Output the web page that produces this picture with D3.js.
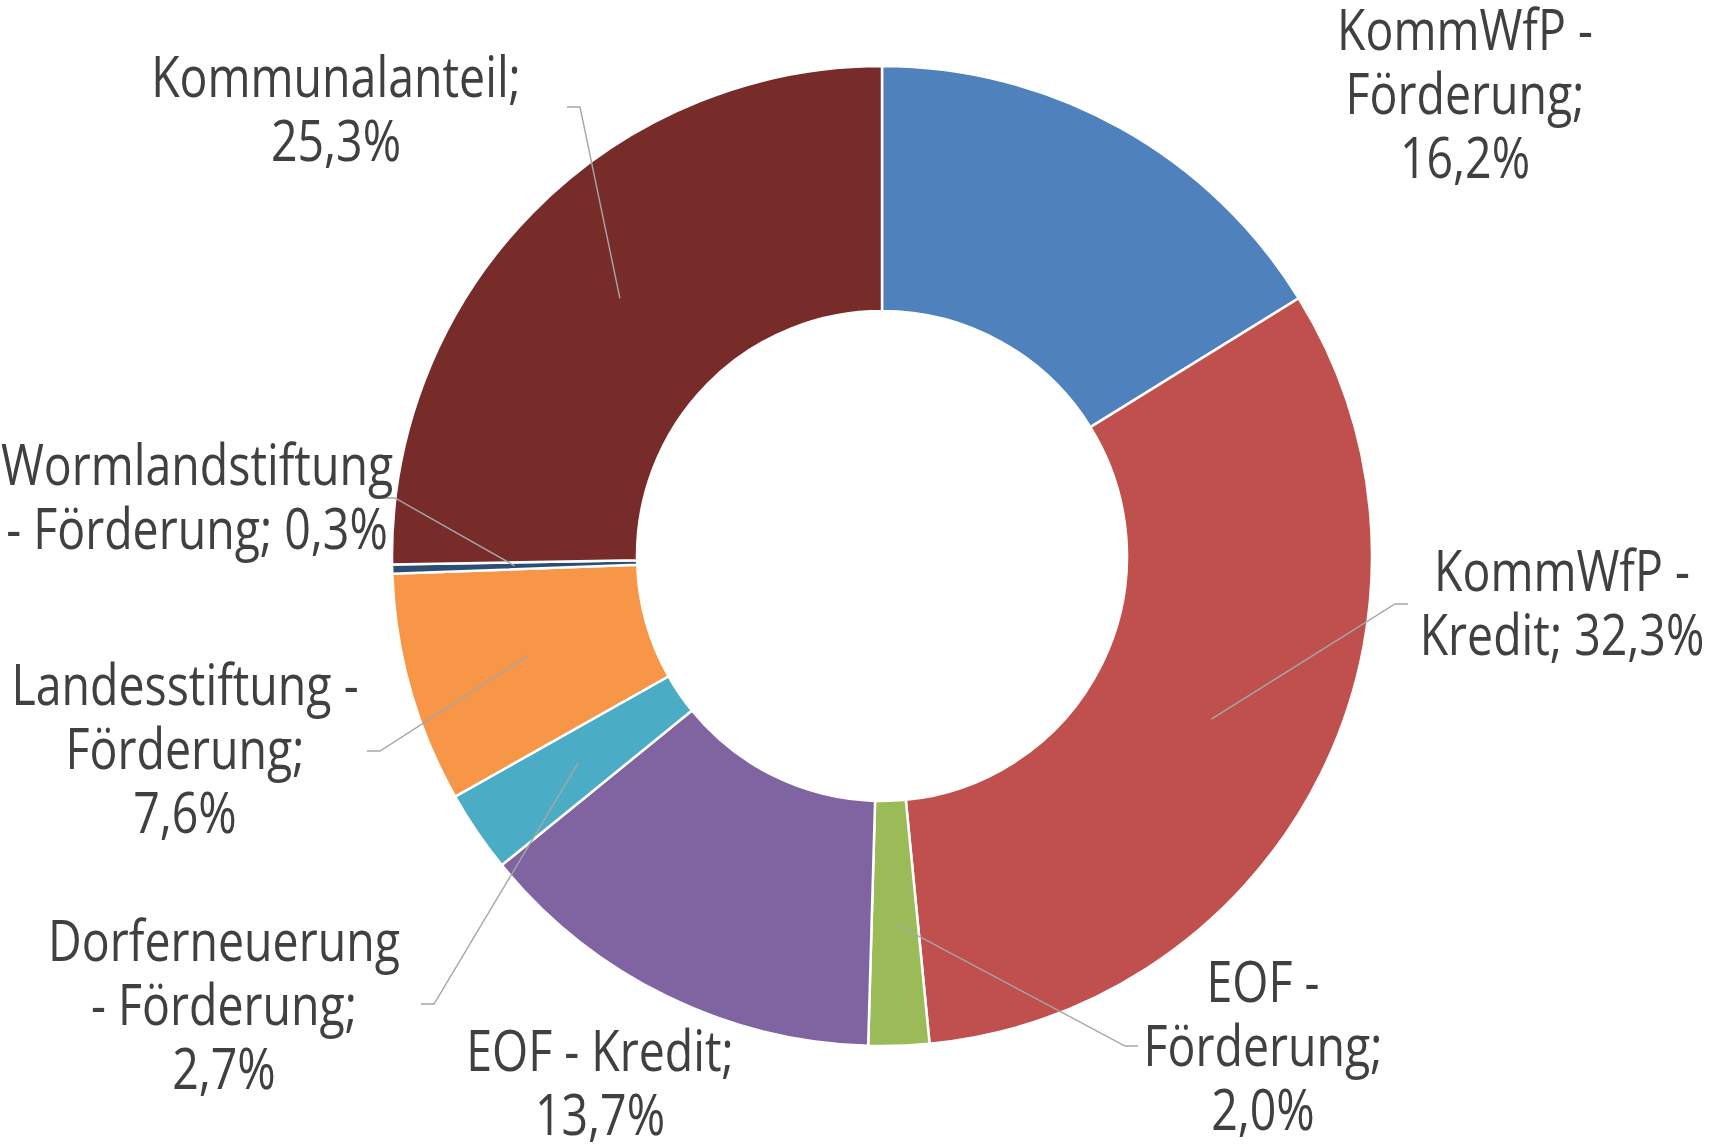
<!DOCTYPE html>
<html>
<head>
<meta charset="utf-8">
<script src="https://cdn.jsdelivr.net/npm/d3@7"></script>
<style>
  body { margin: 0; background: #fff; }
  svg { display: block; }
</style>
</head>
<body>
<div id="chart"></div>
<script>
// data, clockwise from 12 o'clock
const categories = ["KommWfP - Förderung", "KommWfP - Kredit", "EOF - Förderung", "EOF - Kredit",
  "Dorferneuerung - Förderung", "Landesstiftung - Förderung", "Wormlandstiftung - Förderung", "Kommunalanteil"]
const shares = [16.2, 32.3, 2.0, 13.7, 2.7, 7.6, 0.3, 25.3]
const colors = ["#4F81BD", "#C0504D", "#9BBB59", "#8064A2", "#4BACC6", "#F79646", "#2C4D75", "#772C2A"]

// how the labels wrap, {p} is replaced by the share
const labelWrap = [
  ["KommWfP -", "Förderung;", "{p}"],
  ["KommWfP -", "Kredit; {p}"],
  ["EOF -", "Förderung;", "{p}"],
  ["EOF - Kredit;", "{p}"],
  ["Dorferneuerung", "- Förderung;", "{p}"],
  ["Landesstiftung -", "Förderung;", "{p}"],
  ["Wormlandstiftung", "- Förderung; {p}"],
  ["Kommunalanteil;", "{p}"]
]
// label anchor (center x, first baseline) and leader attach point
const labelPos = [[1465, 50], [1562, 591], [1263, 1002], [600, 1071], [224, 961], [185, 705], [197, 485], [336, 97]]
const leaderAt = [null, [1408, 604], [1138, 1046], null, [421, 1004], [367, 751], [382, 498], [567, 107]]

var width = 1727, height = 1146
var cx = 882, cy = 556, outerR = 490, innerR = 245
var lineH = 64
var squeeze = 0.83   // Open Sans is wider than the Calibri of the original

var svg = d3.select("#chart").append("svg")
  .attr("width", width)
  .attr("height", height)

var pie = d3.pie().sort(null).value(function (d) { return d })
var arc = d3.arc().innerRadius(innerR).outerRadius(outerR)
var arcs = pie(shares)

var g = svg.append("g").attr("transform", "translate(" + cx + "," + cy + ")")

g.selectAll("path")
  .data(arcs)
  .join("path")
  .attr("d", arc)
  .attr("fill", function (d, i) { return colors[i] })
  .attr("stroke", "#fff")
  .attr("stroke-width", 2.5)

function fmt(v) { return v.toFixed(1).replace(".", ",") + "%" }

// leader lines
arcs.forEach(function (d, i) {
  if (!leaderAt[i]) return
  var c = arc.centroid(d)
  var px = cx + c[0], py = cy + c[1]
  var a = leaderAt[i]
  var dir = px > a[0] ? 1 : -1
  svg.append("polyline")
    .attr("points", [a, [a[0] + dir * 13, a[1]], [px, py]].map(function (p) { return p.join(",") }).join(" "))
    .attr("fill", "none")
    .attr("stroke", "#A6A6A6")
    .attr("stroke-width", 1.4)
})

// labels
var labels = svg.append("g")
  .style("font-family", "'Open Sans', sans-serif")
  .style("font-size", "56px")
  .attr("fill", "#404040")
  .attr("text-anchor", "middle")

labelWrap.forEach(function (lines, i) {
  var x = labelPos[i][0]
  var t = labels.append("text")
    .attr("transform", "translate(" + x + ",0) scale(" + squeeze + ",1) translate(" + (-x) + ",0)")
  lines.forEach(function (s, k) {
    t.append("tspan")
      .attr("x", x)
      .attr("y", labelPos[i][1] + k * lineH)
      .text(s.replace("{p}", fmt(shares[i])))
  })
})
</script>
</body>
</html>
